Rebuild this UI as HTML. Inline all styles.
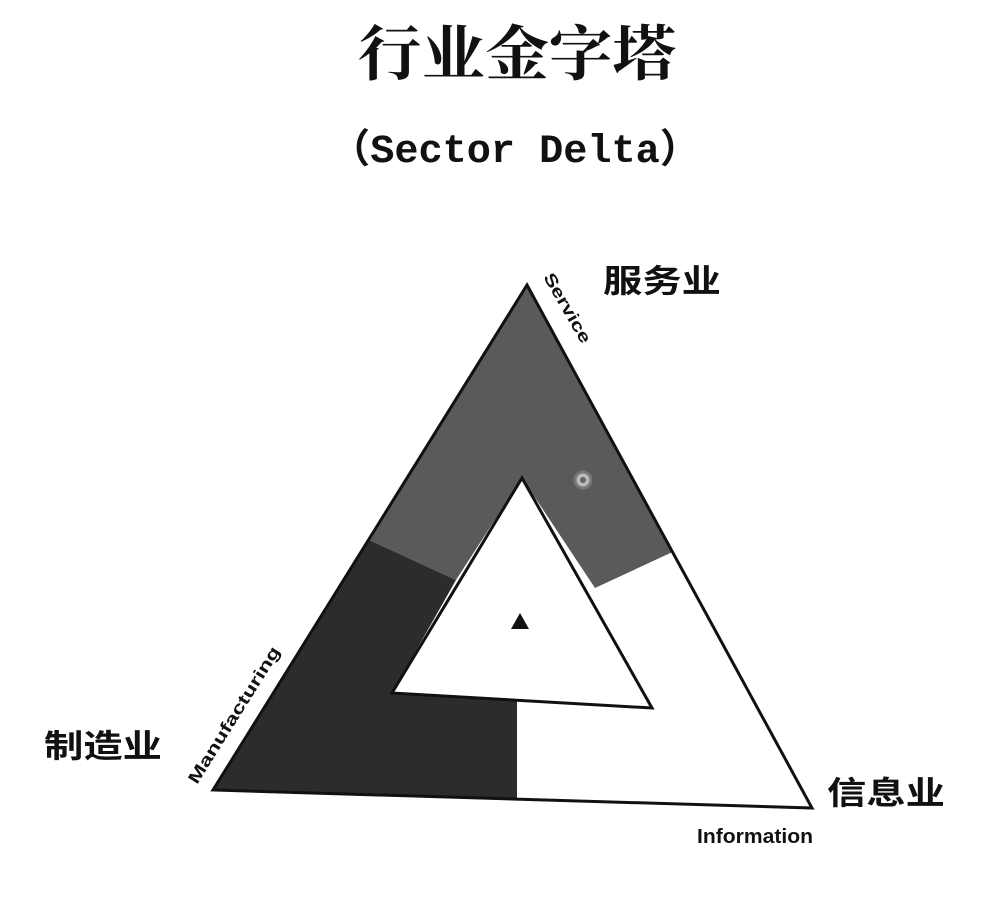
<!DOCTYPE html>
<html><head><meta charset="utf-8"><style>
html,body{margin:0;padding:0;background:#fff;width:984px;height:912px;overflow:hidden}
</style></head><body>
<svg width="984" height="912" xmlns="http://www.w3.org/2000/svg">
<text x="517" y="75" font-family="'Noto Serif CJK SC',serif" font-size="60" font-weight="bold" text-anchor="middle" textLength="318" lengthAdjust="spacingAndGlyphs" fill="#111">行业金字塔</text>
<text x="515" y="162" font-family="'Liberation Mono','Noto Sans CJK SC',monospace" font-size="40" font-weight="bold" text-anchor="middle" textLength="370" lengthAdjust="spacingAndGlyphs" fill="#111">（Sector Delta）</text>
<!-- service region -->
<polygon points="527,285 672.5,552 595,588 522,478 456,580 369,540" fill="#5a5a5a"/>
<!-- manufacturing region -->
<polygon points="369,540 456,580 392,693 517,695 517,800 213,790" fill="#2c2c2c"/>
<!-- outer triangle -->
<polygon points="527,285 812,808 213,790" fill="none" stroke="#111" stroke-width="3"/>
<!-- inner triangle -->
<polygon points="522,478 652,708 392,693" fill="#fff" stroke="#111" stroke-width="3"/>
<circle cx="583" cy="480" r="8" fill="#bbb" stroke="#777" stroke-width="3"/>
<circle cx="583" cy="480" r="3" fill="#666"/>
<polygon points="520,613 529,629 511,629" fill="#111"/>
<text x="543" y="277" font-family="'Liberation Sans',sans-serif" font-size="17" font-weight="bold" fill="#111" transform="rotate(60 543 277)" textLength="78" lengthAdjust="spacingAndGlyphs">Service</text>
<text x="197" y="785" font-family="'Liberation Sans',sans-serif" font-size="17" font-weight="bold" fill="#111" transform="rotate(-58 197 785)" textLength="158" lengthAdjust="spacingAndGlyphs">Manufacturing</text>
<text x="697" y="843" font-family="'Liberation Sans',sans-serif" font-size="20" font-weight="bold" fill="#111" textLength="116" lengthAdjust="spacingAndGlyphs">Information</text>
<text x="603" y="292" font-family="'Noto Sans CJK SC',sans-serif" font-size="32" font-weight="bold" fill="#111" textLength="118" lengthAdjust="spacingAndGlyphs">服务业</text>
<text x="44" y="757" font-family="'Noto Sans CJK SC',sans-serif" font-size="32" font-weight="bold" fill="#111" textLength="118" lengthAdjust="spacingAndGlyphs">制造业</text>
<text x="827" y="804" font-family="'Noto Sans CJK SC',sans-serif" font-size="32" font-weight="bold" fill="#111" textLength="118" lengthAdjust="spacingAndGlyphs">信息业</text>
</svg>
</body></html>
